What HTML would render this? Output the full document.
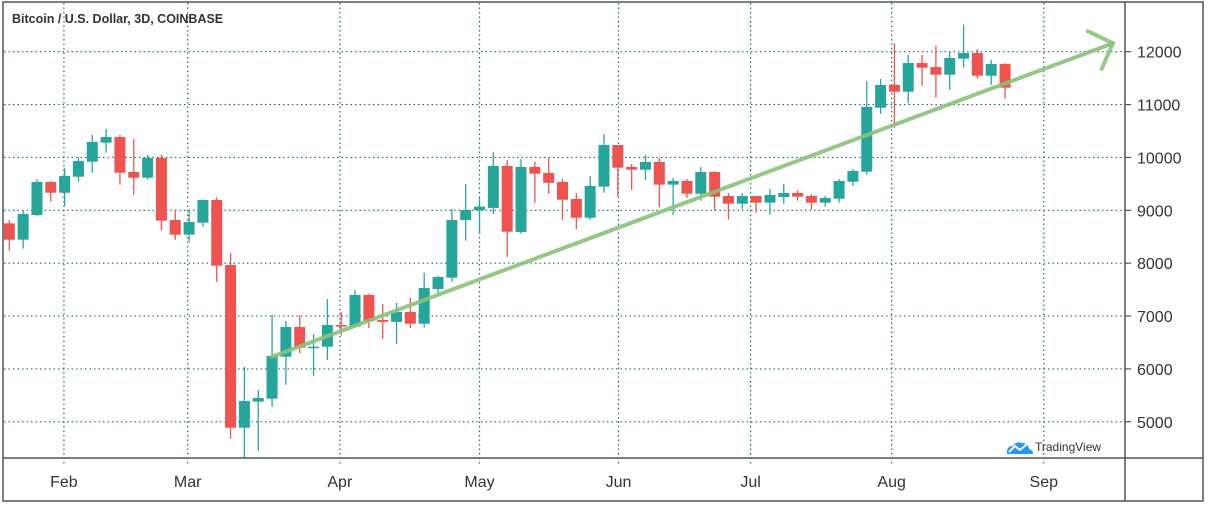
<!DOCTYPE html>
<html><head><meta charset="utf-8"><style>
body{margin:0;background:#fff;}
svg{display:block;font-family:"Liberation Sans",sans-serif;}
</style></head><body>
<svg id="c" width="1209" height="507">
<rect x="3" y="2" width="1200" height="499" fill="#fff" stroke="#50535e" stroke-width="1.5"/>
<g id="grid"></g>
<g id="candles"></g>
<g id="trend"></g>
<line x1="1125" y1="2" x2="1125" y2="501" stroke="#50535e" stroke-width="1.5"/>
<line x1="3" y1="458" x2="1203" y2="458" stroke="#50535e" stroke-width="1.5"/>
<g id="ylabels"></g>
<g id="xlabels"></g>
<text x="12" y="23" font-size="12.5" font-weight="bold" fill="#333">Bitcoin / U.S. Dollar, 3D, COINBASE</text>
<g>
<path d="M1007 452 q0-6 6-6 q3-5 9-3 q6 0 7 6 q4 1 4 5 h-26z" fill="#2196f3"/>
<polyline points="1009,452 1015,446 1020,450 1027,444" fill="none" stroke="#fff" stroke-width="2"/>
<text x="1035" y="451" font-size="12" fill="#333">TradingView</text>
</g>
</svg>
<script>
const opens=[8754,8444,8911,9535,9333,9636,9920,10280,10387,9725,9617,9989,8817,8539,8766,9195,7966,4888,5381,5437,6231,6792,6400,6420,6830,6800,7400,6926,6890,7077,6855,7510,7725,8817,9005,9045,9838,8590,9820,9705,9535,9214,8860,9447,10235,9819,9768,9914,9485,9555,9314,9725,9270,9125,9270,9144,9252,9327,9270,9144,9220,9541,9730,10940,11370,11243,11786,11710,11565,11868,11975,11546,11767];
const closes=[8444,8930,9535,9333,9649,9933,10293,10387,9711,9617,9989,8804,8539,8779,9195,7952,4888,5393,5450,6244,6792,6400,6420,6830,6800,7400,6907,6890,7077,6855,7530,7740,8817,9005,9070,9838,8595,9820,9693,9520,9200,8860,9460,10235,9806,9768,9914,9485,9555,9314,9725,9258,9125,9270,9144,9290,9327,9258,9144,9233,9555,9743,10957,11370,11243,11786,11697,11565,11880,11975,11546,11767,11319];
const highs=[8817,9006,9586,9555,9795,9995,10425,10538,10425,10350,10046,10046,9019,9019,9208,9246,8193,6042,5602,7020,6907,7020,6660,7320,7077,7490,7425,7230,7250,7347,7820,7760,9025,9500,9230,10100,9950,9970,9919,9990,9592,9327,9650,10444,10235,9876,10046,9990,9611,9592,9819,9743,9327,9327,9270,9403,9498,9384,9308,9270,9592,9781,11446,11484,12159,11938,11938,12113,12000,12505,12050,11843,11786];
const lows=[8236,8274,8892,9163,9082,9541,9711,10090,9484,9295,9579,8614,8444,8406,8690,7650,4680,4300,4453,5286,5702,6295,5870,6170,6630,6770,6770,6566,6470,6770,6790,7400,7650,8425,8550,8930,8123,8558,9138,9314,8817,8646,8822,9333,9257,9384,9573,9063,8911,9233,9180,8993,8822,9030,8955,8917,9125,9182,9010,9068,9144,9465,9673,10827,10563,11024,11357,11130,11281,11697,11489,11376,11111];
const priceTicks=[5000,6000,7000,8000,9000,10000,11000,12000];
const monthLabels=["Feb","Mar","Apr","May","Jun","Jul","Aug","Sep"];
const monthIndex=[3.95,12.9,23.9,34.0,44.05,53.6,63.8,74.8];
const trendStart={i:19,p:6230};
const trendEnd={i:79.8,p:12160};

const NS="http://www.w3.org/2000/svg";
const yOf=p=>51.7+(12000-p)*0.05287;
const xOf=i=>9.3+13.83*i;
function mk(tag,attrs,parent){const e=document.createElementNS(NS,tag);for(const k in attrs)e.setAttribute(k,attrs[k]);parent.appendChild(e);return e;}
const grid=document.getElementById('grid'),cg=document.getElementById('candles'),yl=document.getElementById('ylabels'),xl=document.getElementById('xlabels'),tg=document.getElementById('trend');
priceTicks.forEach(p=>{
  const y=yOf(p);
  const l=mk('line',{x1:4,x2:1125,y1:y,y2:y,stroke:'#1f6b6b','stroke-width':1.2,'stroke-dasharray':'1.5 3'},grid);
  
  
  const t=mk('line',{x1:1125,x2:1131,y1:y,y2:y,stroke:'#50535e','stroke-width':1.2},yl);
  
  
  const tx=mk('text',{x:1137,y:y+6,'font-size':16,fill:'#333'},yl);
  tx.textContent=p;
  
  
});
monthLabels.forEach((m,k)=>{
  const x=xOf(monthIndex[k]);
  const l=mk('line',{x1:x,x2:x,y1:3,y2:464,stroke:'#1f6b6b','stroke-width':1.2,'stroke-dasharray':'1.5 3'},grid);
  
  
  const tx=mk('text',{x:x,y:487,'font-size':16,fill:'#333','text-anchor':'middle'},xl);
  tx.textContent=m;
  
  
});
opens.forEach((o,i)=>{
  const c=closes[i],up=c>=o,col=up?'#26a69a':'#ef5350',x=xOf(i);
  const g=mk('g',{},cg);
  
  
  mk('line',{x1:x,x2:x,y1:yOf(highs[i]),y2:Math.min(yOf(lows[i]),458),stroke:col,'stroke-width':1.3},g);
  const top=yOf(Math.max(o,c)),bot=yOf(Math.min(o,c));
  mk('rect',{x:x-5.5,y:top,width:11,height:Math.max(bot-top,1.5),fill:col},g);
});
const x1=xOf(trendStart.i),y1=yOf(trendStart.p),x2=xOf(trendEnd.i),y2=yOf(trendEnd.p);
const tl=mk('line',{x1:x1,y1:y1,x2:x2,y2:y2,stroke:'#8bc27a','stroke-width':4,'stroke-linecap':'round',opacity:0.9},tg);


const ang=Math.atan2(y2-y1,x2-x1),L=28,S=0.8;
const hd=mk('polyline',{points:[x2-L*Math.cos(ang-S),y2-L*Math.sin(ang-S),x2,y2,x2-L*Math.cos(ang+S),y2-L*Math.sin(ang+S)].join(' '),fill:'none',stroke:'#8bc27a','stroke-width':4,'stroke-linecap':'round','stroke-linejoin':'round',opacity:0.9},tg);


</script>
</body></html>
